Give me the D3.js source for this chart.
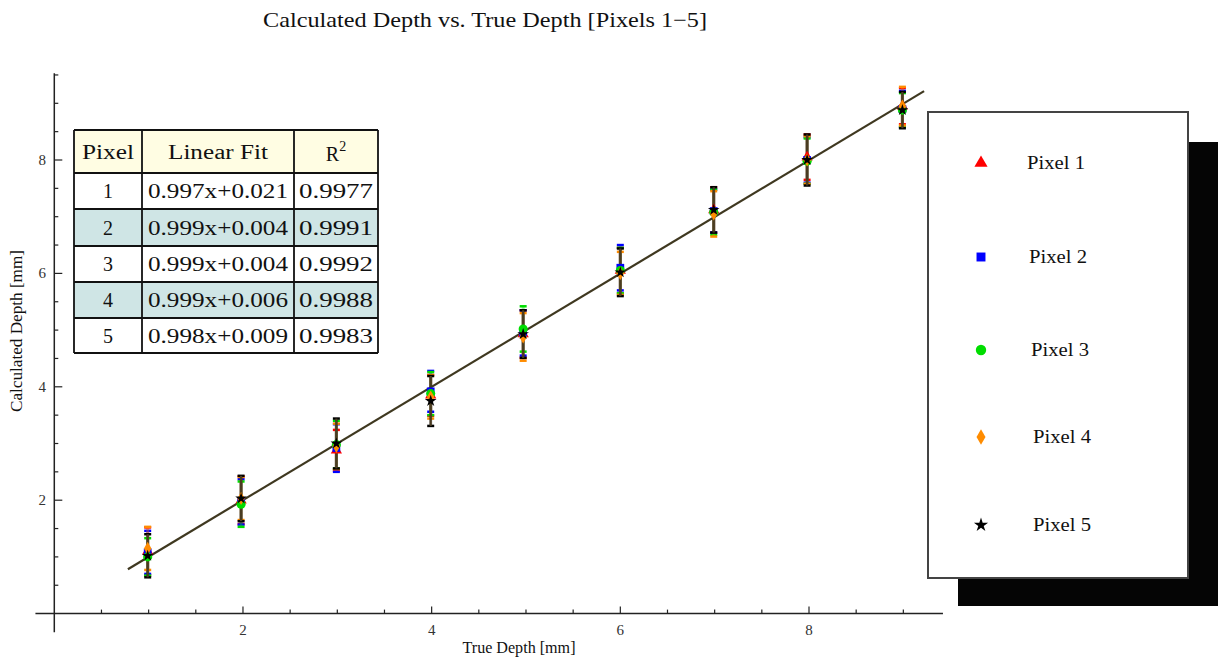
<!DOCTYPE html>
<html>
<head>
<meta charset="utf-8">
<script src="https://cdn.jsdelivr.net/npm/d3@7"></script>
<style>
  html, body { margin: 0; padding: 0; background: #fff; }
  svg { display: block; font-family: "Liberation Serif", "Times New Roman", serif; }
</style>
</head>
<body>
<svg id="chart" width="1218" height="660"></svg>
<script>
// True depths (x positions of each measurement group)
const trueDepth = [0.99, 1.98, 2.99, 3.99, 4.97, 6.0, 6.99, 7.98, 8.99];

// Calculated depths per pixel
const pixel1 = [1.10, 2.00, 2.88, 3.85, 4.93, 6.05, 7.12, 8.05, 8.95];
const pixel2 = [1.08, 1.97, 2.92, 3.92, 4.95, 6.10, 7.10, 8.00, 8.90];
const pixel3 = [1.00, 1.93, 2.98, 3.88, 5.02, 6.05, 7.08, 7.98, 8.88];
const pixel4 = [1.15, 2.03, 2.95, 3.82, 4.88, 6.00, 7.05, 8.00, 8.95];
const pixel5 = [1.02, 2.03, 3.00, 3.75, 4.93, 6.02, 7.12, 8.00, 8.88];

// Error bar half-widths per pixel
const err1 = [0.42, 0.42, 0.36, 0.36, 0.42, 0.40, 0.40, 0.40, 0.32];
const err2 = [0.38, 0.40, 0.42, 0.36, 0.40, 0.40, 0.38, 0.40, 0.32];
const err3 = [0.33, 0.40, 0.42, 0.38, 0.40, 0.40, 0.40, 0.40, 0.30];
const err4 = [0.38, 0.38, 0.40, 0.38, 0.42, 0.38, 0.40, 0.42, 0.34];
const err5 = [0.38, 0.40, 0.44, 0.44, 0.42, 0.42, 0.40, 0.45, 0.32];

const seriesNames = ["Pixel 1", "Pixel 2", "Pixel 3", "Pixel 4", "Pixel 5"];
const seriesColors = ["#ff0000", "#0000ff", "#00dd00", "#ff8c00", "#000000"];
const seriesShapes = ["triangle", "square", "circle", "diamond", "star"];

// Summary table of linear fits
const tableHeader = ["Pixel", "Linear Fit", "R2"];
const fitPixel = ["1", "2", "3", "4", "5"];
const fitEquation = ["0.997x+0.021", "0.999x+0.004", "0.999x+0.004", "0.999x+0.006", "0.998x+0.009"];
const fitR2 = ["0.9977", "0.9991", "0.9992", "0.9988", "0.9983"];

// Overall fit line
const fitSlope = 0.999;
const fitIntercept = 0.004;
const fitRange = [0.78, 9.22];

const xTicksMajor = [2, 4, 6, 8];
const yTicksMajor = [2, 4, 6, 8];

const svg = d3.select("#chart");

const x = d3.scaleLinear().domain([0, 8]).range([54.3, 809]);
const y = d3.scaleLinear().domain([0, 8]).range([613.6, 160]);

const axisColor = "#222";

// Title
svg.append("text")
  .attr("x", 485).attr("y", 27)
  .attr("text-anchor", "middle")
  .attr("font-size", 21)
  .attr("textLength", 444).attr("lengthAdjust", "spacingAndGlyphs")
  .attr("fill", "#111")
  .text("Calculated Depth vs. True Depth [Pixels 1\u22125]");

// X axis
const xAxisG = svg.append("g");
xAxisG.append("line")
  .attr("x1", x(-0.2)).attr("x2", x(9.42))
  .attr("y1", y(0)).attr("y2", y(0))
  .attr("stroke", axisColor).attr("stroke-width", 1.5);
const xMinor = d3.range(0.5, 9.01, 0.5).filter(v => !xTicksMajor.includes(v));
xAxisG.selectAll(".xminor").data(xMinor).join("line")
  .attr("x1", d => x(d)).attr("x2", d => x(d))
  .attr("y1", y(0)).attr("y2", y(0) - 4)
  .attr("stroke", axisColor).attr("stroke-width", 1.2);
xAxisG.selectAll(".xmajor").data(xTicksMajor).join("line")
  .attr("x1", d => x(d)).attr("x2", d => x(d))
  .attr("y1", y(0)).attr("y2", y(0) - 7)
  .attr("stroke", axisColor).attr("stroke-width", 1.2);
xAxisG.selectAll(".xlab").data(xTicksMajor).join("text")
  .attr("x", d => x(d)).attr("y", y(0) + 21)
  .attr("text-anchor", "middle").attr("font-size", 15).attr("fill", "#333")
  .text(d => d);

// Y axis
const yAxisG = svg.append("g");
yAxisG.append("line")
  .attr("x1", x(0)).attr("x2", x(0))
  .attr("y1", y(-0.33)).attr("y2", y(9.53))
  .attr("stroke", axisColor).attr("stroke-width", 1.5);
const yMinor = d3.range(0.5, 9.51, 0.5).filter(v => !yTicksMajor.includes(v));
yAxisG.selectAll(".yminor").data(yMinor).join("line")
  .attr("x1", x(0)).attr("x2", x(0) + 4)
  .attr("y1", d => y(d)).attr("y2", d => y(d))
  .attr("stroke", axisColor).attr("stroke-width", 1.2);
yAxisG.selectAll(".ymajor").data(yTicksMajor).join("line")
  .attr("x1", x(0)).attr("x2", x(0) + 8)
  .attr("y1", d => y(d)).attr("y2", d => y(d))
  .attr("stroke", axisColor).attr("stroke-width", 1.2);
yAxisG.selectAll(".ylab").data(yTicksMajor).join("text")
  .attr("x", x(0) - 12).attr("y", d => y(d) + 5)
  .attr("text-anchor", "middle").attr("font-size", 15).attr("fill", "#333")
  .text(d => d);

// Axis titles
svg.append("text")
  .attr("x", 519).attr("y", 653)
  .attr("text-anchor", "middle").attr("font-size", 16).attr("fill", "#111")
  .attr("textLength", 113).attr("lengthAdjust", "spacingAndGlyphs")
  .text("True Depth [mm]");
svg.append("text")
  .attr("transform", "translate(22,331) rotate(-90)")
  .attr("text-anchor", "middle").attr("font-size", 16).attr("fill", "#111")
  .attr("textLength", 162).attr("lengthAdjust", "spacingAndGlyphs")
  .text("Calculated Depth [mm]");

// Series data
const values = [pixel1, pixel2, pixel3, pixel4, pixel5];
const errors = [err1, err2, err3, err4, err5];
const series = seriesNames.map((name, i) => ({
  name, color: seriesColors[i], shape: seriesShapes[i],
  points: trueDepth.map((td, j) => ({ x: td, y: values[i][j], e: errors[i][j] }))
}));

const shapeMap = {
  triangle: d3.symbolTriangle,
  square: d3.symbolSquare,
  circle: d3.symbolCircle,
  diamond: d3.symbolDiamond,
  star: d3.symbolStar
};
const sizeMap = { triangle: 55, square: 60, circle: 65, diamond: 50, star: 42 };

// Error bars
const errG = svg.append("g");
series.forEach(s => {
  const g = errG.append("g");
  g.selectAll(".stem").data(s.points).join("line")
    .attr("x1", d => x(d.x)).attr("x2", d => x(d.x))
    .attr("y1", d => y(d.y - d.e)).attr("y2", d => y(d.y + d.e))
    .attr("stroke", s.color).attr("stroke-width", 3).attr("stroke-opacity", 0.35);
  g.selectAll(".capT").data(s.points).join("line")
    .attr("x1", d => x(d.x) - 3.5).attr("x2", d => x(d.x) + 3.5)
    .attr("y1", d => y(d.y + d.e)).attr("y2", d => y(d.y + d.e))
    .attr("stroke", s.color).attr("stroke-width", 2.5);
  g.selectAll(".capB").data(s.points).join("line")
    .attr("x1", d => x(d.x) - 3.5).attr("x2", d => x(d.x) + 3.5)
    .attr("y1", d => y(d.y - d.e)).attr("y2", d => y(d.y - d.e))
    .attr("stroke", s.color).attr("stroke-width", 2.5);
});
// Central stems in a dark composite tone
errG.selectAll(".stemCore").data(series[4].points).join("line")
  .attr("x1", d => x(d.x)).attr("x2", d => x(d.x))
  .attr("y1", d => y(d.y - d.e)).attr("y2", d => y(d.y + d.e))
  .attr("stroke", "#4a3c22").attr("stroke-width", 2.2);

// Fit line
svg.append("line")
  .attr("x1", x(fitRange[0])).attr("y1", y(fitSlope * fitRange[0] + fitIntercept))
  .attr("x2", x(fitRange[1])).attr("y2", y(fitSlope * fitRange[1] + fitIntercept))
  .attr("stroke", "#3f3820").attr("stroke-width", 2.2);

// Markers
const markG = svg.append("g");
series.forEach(s => {
  markG.selectAll(null).data(s.points).join("path")
    .attr("transform", d => `translate(${x(d.x)},${y(d.y)})`)
    .attr("d", d3.symbol().type(shapeMap[s.shape]).size(sizeMap[s.shape]))
    .attr("fill", s.color);
});

// Fit summary table
const tbl = svg.append("g").attr("transform", "translate(74,130)");
const colX = [0, 68, 220, 304];
const rowY = [0, 43, 79, 116, 152, 188, 223];
const rowFill = ["#fffde3", "#ffffff", "#cfe5e5", "#ffffff", "#cfe5e5", "#ffffff"];
const cellWidths = [[52, 100, 0], [12, 140, 74]];
const rows = [tableHeader].concat(fitPixel.map((p, i) => [p, fitEquation[i], fitR2[i]]));
rows.forEach((r, ri) => {
  tbl.append("rect")
    .attr("x", 0).attr("y", rowY[ri])
    .attr("width", colX[3]).attr("height", rowY[ri + 1] - rowY[ri])
    .attr("fill", rowFill[ri]);
  r.forEach((cell, ci) => {
    const t = tbl.append("text")
      .attr("x", (colX[ci] + colX[ci + 1]) / 2)
      .attr("y", (rowY[ri] + rowY[ri + 1]) / 2 + 7)
      .attr("text-anchor", "middle")
      .attr("font-size", 20).attr("fill", "#111");
    if (ri === 0 && ci === 2) {
      t.attr("y", (rowY[ri] + rowY[ri + 1]) / 2 + 9);
      t.append("tspan").text("R");
      t.append("tspan").attr("dy", -10).attr("font-size", 14).text("2");
    } else {
      const w = cellWidths[ri === 0 ? 0 : 1][ci];
      if (w > 14) t.attr("textLength", w).attr("lengthAdjust", "spacingAndGlyphs");
      t.text(cell);
    }
  });
});
// Grid lines of the table
rowY.forEach(ry => {
  tbl.append("line").attr("x1", 0).attr("x2", colX[3]).attr("y1", ry).attr("y2", ry)
    .attr("stroke", "#111").attr("stroke-width", 1.8);
});
colX.forEach(cx => {
  tbl.append("line").attr("x1", cx).attr("x2", cx).attr("y1", 0).attr("y2", rowY[rowY.length - 1])
    .attr("stroke", "#111").attr("stroke-width", 1.8);
});

// Legend with drop shadow
const leg = svg.append("g");
leg.append("rect")
  .attr("x", 958).attr("y", 142).attr("width", 262).attr("height", 464)
  .attr("fill", "#050505");
leg.append("rect")
  .attr("x", 928).attr("y", 112).attr("width", 260).attr("height", 466)
  .attr("fill", "#fff").attr("stroke", "#444").attr("stroke-width", 2);
const legY = [163, 257, 350, 437, 525];
series.forEach((s, i) => {
  leg.append("path")
    .attr("transform", `translate(981,${legY[i]})`)
    .attr("d", d3.symbol().type(shapeMap[s.shape]).size(sizeMap[s.shape] + 20))
    .attr("fill", s.color);
  leg.append("text")
    .attr("x", 1027 + Math.min(i, 3) * 2).attr("y", legY[i] + 6)
    .attr("font-size", 18).attr("fill", "#111")
    .attr("textLength", 58).attr("lengthAdjust", "spacingAndGlyphs")
    .text(s.name);
});
</script>
</body>
</html>
